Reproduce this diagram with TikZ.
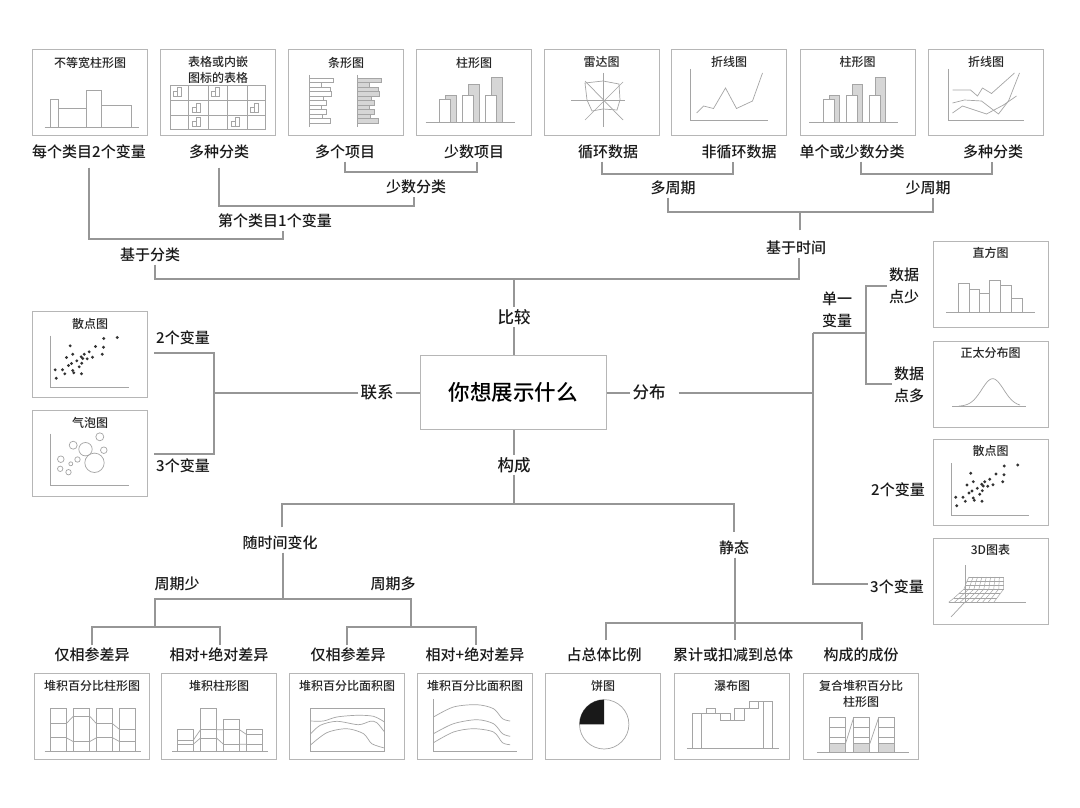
\documentclass[tikz,border=0pt]{standalone}
\usepackage{fontspec}
\setmainfont{Noto Sans CJK SC}
\newfontfamily\lblfont{Noto Sans CJK SC}[UprightFont=* Medium]
\definecolor{boxgray}{RGB}{182,182,182}
\definecolor{branchgray}{RGB}{150,150,150}
\definecolor{plotgray}{RGB}{165,165,165}
\definecolor{barfill}{RGB}{214,214,214}
\tikzset{
  thumb/.style={draw=boxgray, fill=white, line width=0.9pt, minimum width=115pt, minimum height=86pt, inner sep=0pt, outer sep=0pt},
  thumbtitle/.style={font=\lblfont\fontsize{12}{16}\selectfont, inner sep=0pt, align=center, text=black!85},
  lbl/.style={font=\lblfont\fontsize{15}{22}\selectfont, inner sep=2pt, text height=13.2pt, text depth=1.8pt, text=black!90},
  lbltwo/.style={font=\lblfont\fontsize{15}{22}\selectfont, inner sep=2pt, align=center, text=black!90},
  lblbig/.style={font=\lblfont\fontsize{16.5}{22}\selectfont, inner sep=2pt, text height=14.5pt, text depth=2pt, text=black!90},
  branch/.style={draw=branchgray, line width=1.2pt},
  plotline/.style={draw=plotgray, line width=0.7pt},
  barbox/.style={draw=plotgray, fill=white, line width=0.7pt},
  barshade/.style={draw=plotgray, fill=barfill, line width=0.7pt},
  dotmark/.style={fill=black!80}
}
\newcommand{\scatterdots}{%
  \draw[plotline] (18,24) -- (18,76) -- (96,76);
  \foreach \px/\py in {22.7/58.3,23.7/66.7,30/58.3,32.3/62.3,34/46,36/54,37.7/34.3,39/52,40.3/42.7,40.3/59,41.3/61.3,44.3/49.3,46.7/55.3,48.7/45.3,49.3/51.7,49/62.3,50.3/47,51.7/42.7,54.7/47.3,56.7/40.3,60/45.7,63/35,69.7/42.7,71/35.7,71.3/27,84.7/26}
    \fill[dotmark] (\px,\py) circle[radius=1.6];
}
\newcommand{\pairbars}{%
  \foreach \xa/\ya in {29/46,52/35,75/28}
    \draw[barshade] (\xa,73) rectangle (\xa+10.5,\ya);
  \foreach \xa/\ya in {23/50,46/46,69/46}
    \draw[barbox] (\xa,73) rectangle (\xa+11,\ya);
  \draw[plotline] (9,73) -- (98,73);
}
\newcommand{\tableicon}[2]{%
  \draw[plotline, line width=0.5pt] (#1,#2) rectangle (#1+3.5,#2-5);
  \draw[plotline, line width=0.5pt] (#1+3.5,#2) rectangle (#1+7.5,#2-9);
}
\begin{document}
\begin{tikzpicture}[x=1pt,y=-1pt]
\useasboundingbox (0,0) rectangle (1080,808);
\fill[white] (0,0) rectangle (1080,808);

% centre
\node[draw=boxgray, line width=1pt, minimum width=186pt, minimum height=74pt, inner sep=0pt, font=\lblfont\fontsize{21.5}{26}\selectfont, text=black] (root) at (513,392.5) {你想展示什么};
\node[lblbig] (cmp) at (514,317) {比较};
\node[lblbig] (rel) at (377,392) {联系};
\node[lblbig] (dist) at (649,392) {分布};
\node[lblbig] (comp) at (514,465) {构成};

% top row thumbs
\node[thumb] (tmek) at (90,92) {};
\begin{scope}[shift={(tmek.north west)}]
  \node[thumbtitle] (tmekT) at (57.5,14) {不等宽柱形图};
  \draw[plotline] (18,78) rectangle (26,50);
  \draw[plotline] (26,78) rectangle (54,59);
  \draw[plotline] (54,78) rectangle (69,41);
  \draw[plotline] (69,78) rectangle (99,56);
  \draw[plotline] (12,78) -- (106,78);
\end{scope}
\node[thumb] (ttab) at (218,92) {};
\begin{scope}[shift={(ttab.north west)}]
  \node[thumbtitle] (ttabT) at (57.5,21) {表格或内嵌\\图标的表格};
  \draw[plotline] (10,36) rectangle (105,80);
  \foreach \hy in {51,66}
    \draw[plotline] (10,\hy) -- (105,\hy);
  \foreach \vx in {28,48,67,87}
    \draw[plotline] (\vx,36) -- (\vx,80);
  \tableicon{13}{47}
  \tableicon{51}{47}
  \tableicon{32}{63}
  \tableicon{90}{63}
  \tableicon{32}{77}
  \tableicon{71}{77}
\end{scope}
\node[thumb] (tbar) at (346,92) {};
\begin{scope}[shift={(tbar.north west)}]
  \node[thumbtitle] (tbarT) at (57.5,14) {条形图};
  \foreach \by/\bw in {29/24,33.5/12,38/21,42.5/22,47/14,51.5/17,56/12,60.5/17,65/13,69.5/21} {
    \draw[barbox] (21,\by) rectangle (21+\bw,\by+4.5);
    \draw[barshade] (69,\by) rectangle (69+\bw,\by+4.5);
  }
  \draw[plotline] (21,26) -- (21,78);
  \draw[plotline] (69,26) -- (69,78);
\end{scope}
\node[thumb] (tcol) at (474,92) {};
\begin{scope}[shift={(tcol.north west)}]
  \node[thumbtitle] (tcolT) at (57.5,14) {柱形图};
  \pairbars
\end{scope}
\node[thumb] (trad) at (601.5,92) {};
\begin{scope}[shift={(trad.north west)}]
  \node[thumbtitle] (tradT) at (57.5,13) {雷达图};
  \draw[plotline] (27,51) -- (81,51);
  \draw[plotline] (59,24) -- (59,78);
  \draw[plotline] (41,32) -- (79,71);
  \draw[plotline] (79,33) -- (41,71);
  \draw[plotline] (41,34) -- (59,32) -- (75,35) -- (76,51) -- (73,61) -- (59,60) -- (48,62) -- (43,51) -- cycle;
\end{scope}
\node[thumb] (tlin) at (729,92) {};
\begin{scope}[shift={(tlin.north west)}]
  \node[thumbtitle] (tlinT) at (57.5,13) {折线图};
  \draw[plotline] (19,20) -- (19,71) -- (96,71);
  \draw[plotline] (25,64) -- (32,57) -- (42,59.5) -- (54,39) -- (65,59.5) -- (81,52) -- (91,24);
\end{scope}
\node[thumb] (tcol2) at (857.5,92) {};
\begin{scope}[shift={(tcol2.north west)}]
  \node[thumbtitle] (tcol2T) at (57.5,13) {柱形图};
  \pairbars
\end{scope}
\node[thumb] (tlin2) at (986,92) {};
\begin{scope}[shift={(tlin2.north west)}]
  \node[thumbtitle] (tlin2T) at (57.5,13) {折线图};
  \draw[plotline] (20,20) -- (20,71) -- (95,71);
  \draw[plotline] (24,41) -- (42,41) -- (49,47) -- (54,39) -- (63,44.5) -- (86,24);
  \draw[plotline] (24,54) -- (36,51) -- (53,52) -- (70,65) -- (80,52) -- (91,24);
  \draw[plotline] (24,64) -- (34,57) -- (58,65) -- (75,56) -- (88,47);
\end{scope}

% left thumbs
\node[thumb] (tsca) at (90,354.5) {};
\begin{scope}[shift={(tsca.north west)}]
  \node[thumbtitle] (tscaT) at (57.5,12) {散点图};
  \scatterdots
\end{scope}
\node[thumb] (tbub) at (90,453.5) {};
\begin{scope}[shift={(tbub.north west)}]
  \node[thumbtitle] (tbubT) at (57.5,12) {气泡图};
  \draw[plotline] (18,23) -- (18,75) -- (96,75);
  \foreach \cx/\cy/\cr in {67.3/26.3/4,40.7/34.7/4,53/38.7/6.7,71.3/39.7/3.3,62/52.3/9.7,28.3/48.7/3.3,45/49/2.7,38.3/53.3/2,27.7/58.3/2.7,36/61.7/2.7}
    \draw[plotline] (\cx,\cy) circle[radius=\cr];
\end{scope}

% right thumbs
\node[thumb] (this) at (990.5,284) {};
\begin{scope}[shift={(this.north west)}]
  \node[thumbtitle] (thisT) at (57.5,12) {直方图};
  \foreach \xa/\xb/\ya in {25.7/36.3/42,36.3/46.7/48.7,46.7/56.7/52,56.7/67.7/39.7,67.7/78/44.7,78/89/57.7}
    \draw[plotline] (\xa,71) rectangle (\xb,\ya);
  \draw[plotline] (13,71) -- (102,71);
\end{scope}
\node[thumb] (tnor) at (990.5,384) {};
\begin{scope}[shift={(tnor.north west)}]
  \node[thumbtitle] (tnorT) at (57.5,12) {正太分布图};
  \draw[plotline] plot[domain=26:87,samples=40,smooth] (\x,{65.3-27.6*exp(-0.5*((\x-59.7)/11)*((\x-59.7)/11))});
  \draw[plotline] (19,65.3) -- (93,65.3);
\end{scope}
\node[thumb] (tsca2) at (990.5,482) {};
\begin{scope}[shift={(tsca2.north west)}]
  \node[thumbtitle] (tsca2T) at (57.5,12) {散点图};
  \scatterdots
\end{scope}
\node[thumb] (tthr) at (990.5,581) {};
\begin{scope}[shift={(tthr.north west)}]
  \node[thumbtitle] (tthrT) at (57.5,12) {3D图表};
  \draw[plotline] (32,27) -- (32,64) -- (93,64);
  \draw[plotline] (32,64) -- (18,79);
  \foreach \yy/\xl/\xr in {64.3/15.7/60.7,60/21/64,55.5/26/67.3,51/31/70.7,47/32.5/70.7,43/34/70.7,39/36/70.7}
    \draw[plotline, line width=0.5pt] (\xl,\yy) -- (\xr,\yy);
  \foreach \i in {0,...,8}
    \draw[plotline, line width=0.5pt] ({15.7+45*\i/8},64.3) -- ({21+43*\i/8},60) -- ({26+41.3*\i/8},55.5) -- ({31+39.7*\i/8},51) -- ({32.5+38.2*\i/8},47) -- ({34+36.7*\i/8},43) -- ({36+34.7*\i/8},39);
\end{scope}

% bottom thumbs
\node[thumb] (tsta) at (92,716) {};
\begin{scope}[shift={(tsta.north west)}]
  \node[thumbtitle] (tstaT) at (57.5,12.5) {堆积百分比柱形图};
  \foreach \xa/\ya/\yb in {15.7/50.7/64.7,39/43/68.7,62/50.7/64.7,85.3/56.7/68.7} {
    \draw[plotline] (\xa,78) rectangle (\xa+16,35.7);
    \draw[plotline] (\xa,\ya) -- (\xa+16,\ya);
    \draw[plotline] (\xa,\yb) -- (\xa+16,\yb);
  }
  \draw[plotline] (31.7,50.7) -- (39,43) (31.7,64.7) -- (39,68.7);
  \draw[plotline] (55,43) -- (62,50.7) (55,68.7) -- (62,64.7);
  \draw[plotline] (78,50.7) -- (85.3,56.7) (78,64.7) -- (85.3,68.7);
  \draw[plotline] (10,78) -- (106,78);
\end{scope}
\node[thumb] (tstb) at (219,716) {};
\begin{scope}[shift={(tstb.north west)}]
  \node[thumbtitle] (tstbT) at (57.5,12.5) {堆积柱形图};
  \foreach \xa/\yt/\ya/\yb in {15.7/56.3/67.3/71.3,39/35.7/56.7/65,62/46/56.7/71.3,85.3/56.3/61.7/71.3} {
    \draw[plotline] (\xa,78) rectangle (\xa+16,\yt);
    \draw[plotline] (\xa,\ya) -- (\xa+16,\ya);
    \draw[plotline] (\xa,\yb) -- (\xa+16,\yb);
  }
  \draw[plotline] (31.7,67.3) -- (39,56.7) (31.7,71.3) -- (39,65);
  \draw[plotline] (55,56.7) -- (62,56.7) (55,65) -- (62,71.3);
  \draw[plotline] (78,56.7) -- (85.3,61.7) (78,71.3) -- (85.3,71.3);
  \draw[plotline] (10.7,78) -- (106,78);
\end{scope}
\node[thumb] (tara) at (347,716) {};
\begin{scope}[shift={(tara.north west)}]
  \node[thumbtitle] (taraT) at (57.5,12.5) {堆积百分比面积图};
  \draw[plotline] (20.7,35.7) rectangle (95,78);
  \draw[plotline] plot[smooth] coordinates {(20.7,48) (34,48) (47.3,44) (67.3,42.3) (84,43.3) (95,49)};
  \draw[plotline] plot[smooth] coordinates {(20.7,61.3) (30.7,52.3) (47.3,48.3) (69,51.7) (80.7,48.3) (87.3,49.7) (95,59)};
  \draw[plotline] plot[smooth] coordinates {(20.7,72.3) (37.3,59.7) (57.3,55.7) (74,60.7) (82.3,70.7) (95,75)};
\end{scope}
\node[thumb] (tarb) at (475,716) {};
\begin{scope}[shift={(tarb.north west)}]
  \node[thumbtitle] (tarbT) at (57.5,12.5) {堆积百分比面积图};
  \draw[plotline] (16,26) -- (16,78) -- (99,78);
  \draw[plotline] plot[smooth] coordinates {(16,44) (36,34) (59.3,31.7) (76,35.7) (85,45.7) (92.7,48)};
  \draw[plotline] plot[smooth] coordinates {(16,60.7) (36,50.7) (59.3,46.7) (76,50.7) (85,60.7) (92.7,63.3)};
  \draw[plotline] plot[smooth] coordinates {(16,69.7) (36,59) (56,55.7) (76,59) (85,69.7) (92.7,71.7)};
\end{scope}
\node[thumb] (tpie) at (603,716) {};
\begin{scope}[shift={(tpie.north west)}]
  \node[thumbtitle] (tpieT) at (57.5,12.5) {饼图};
  \draw[plotline] (58.7,51.3) circle[radius=24.7];
  \fill[black!90] (58.7,51.3) -- +(180:24.7) arc (180:270:24.7) -- cycle;
\end{scope}
\node[thumb] (twat) at (732,716) {};
\begin{scope}[shift={(twat.north west)}]
  \node[thumbtitle] (twatT) at (57.5,12.5) {瀑布图};
  \draw[plotline] (18,75.7) rectangle (27.3,40.7);
  \draw[plotline] (32,40.7) rectangle (41.3,35.3);
  \draw[plotline] (46,47.3) rectangle (55.7,40.7);
  \draw[plotline] (60.3,47.3) rectangle (69.7,35);
  \draw[plotline] (74.7,35) rectangle (84,28.7);
  \draw[plotline] (89,75.7) rectangle (98.3,28.7);
  \draw[plotline] (27.3,40.7) -- (32,40.7) (41.3,40.7) -- (46,40.7) (55.7,47.3) -- (60.3,47.3) (69.7,35) -- (74.7,35) (84,28.7) -- (89,28.7);
  \draw[plotline] (12.3,75.7) -- (104,75.7);
\end{scope}
\node[thumb] (tcom) at (861,716) {};
\begin{scope}[shift={(tcom.north west)}]
  \node[thumbtitle] (tcomT) at (57.5,20.5) {复合堆积百分比\\柱形图};
  \foreach \xa in {25.7,50,75} {
    \fill[barfill] (\xa,70.7) rectangle (\xa+16.3,79.7);
    \draw[plotline] (\xa,79.7) rectangle (\xa+16.3,44.3);
    \draw[plotline] (\xa,54.7) -- (\xa+16.3,54.7);
    \draw[plotline] (\xa,64.7) -- (\xa+16.3,64.7);
    \draw[plotline] (\xa,70.7) -- (\xa+16.3,70.7);
  }
  \draw[plotline] (42,70.7) -- (50,45) (66.3,70.7) -- (75,45);
  \draw[plotline] (13.3,79.7) -- (105,79.7);
\end{scope}

% labels, top
\node[lbl] (each2) at (89,152) {每个类目2个变量};
\node[lbl] (manycat) at (219,152) {多种分类};
\node[lbl] (manyit) at (345,152) {多个项目};
\node[lbl] (fewit) at (474,152) {少数项目};
\node[lbl] (cyc) at (608,152) {循环数据};
\node[lbl] (noncyc) at (739,152) {非循环数据};
\node[lbl] (fewcat) at (852,152) {单个或少数分类};
\node[lbl] (manycat2) at (993,152) {多种分类};
\node[lbl] (fewcatb) at (416,187) {少数分类};
\node[lbl] (manyper) at (673,188) {多周期};
\node[lbl] (fewper) at (928,188) {少周期};
\node[lbl] (each1) at (275,221) {第个类目1个变量};
\node[lbl] (bycat) at (150,255) {基于分类};
\node[lbl] (bytime) at (796,248) {基于时间};

\coordinate (jait) at (345,172);
\coordinate (jbit) at (477,172);
\coordinate (jatab) at (219,206);
\coordinate (jbtab) at (414,206);
\coordinate (jaeach) at (89,239);
\coordinate (jbeach) at (283,239);
\coordinate (jacyc) at (602,174);
\coordinate (jbcyc) at (733,174);
\coordinate (japer) at (861,174);
\coordinate (jbper) at (992,174);
\coordinate (jatime) at (668,212);
\coordinate (jbtime) at (933,212);
\coordinate (jmtime) at (800,212);
\coordinate (jacmp) at (155,279);
\coordinate (jbcmp) at (799,279);

\draw[branch] (manyit.south -| jait) -- (jait) -- (jbit) -- (fewit.south -| jbit);
\draw[branch, shorten <=6pt] (manycat.south) -- (jatab) -- (jbtab) -- (fewcatb.south -| jbtab);
\draw[branch, shorten <=6pt] (each2.south) -- (jaeach) -- (jbeach) -- (each1.south -| jbeach);
\draw[branch] (cyc.south -| jacyc) -- (jacyc) -- (jbcyc) -- (noncyc.south -| jbcyc);
\draw[branch] (fewcat.south -| japer) -- (japer) -- (jbper) -- (manycat2.south -| jbper);
\draw[branch] (manyper.south -| jatime) -- (jatime) -- (jbtime) -- (fewper.south -| jbtime);
\draw[branch, shorten <=8pt] (bytime.north -| jmtime) -- (jmtime);
\draw[branch] (bycat.south -| jacmp) -- (jacmp) -- (jbcmp) -- (bytime.south -| jbcmp);
\draw[branch] (cmp.north) -- (cmp.north |- jacmp);
\draw[branch] (cmp.south) -- (cmp.south |- root.north);

% left side
\node[lbl] (rel2) at (183,338) {2个变量};
\node[lbl] (rel3) at (183,466) {3个变量};
\coordinate (jrelm) at (214,393);
\coordinate (jrela) at (214,353);
\coordinate (jrelb) at (214,454);
\draw[branch] (root.west |- jrelm) -- (rel.east |- jrelm);
\draw[branch] (rel.west |- jrelm) -- (jrelm);
\draw[branch] (rel2.south west |- jrela) -- (jrela) -- (jrelb) -- (rel3.north west |- jrelb);

% right side
\node[lbltwo] (single) at (837,310) {单一\\变量};
\node[lbltwo] (few) at (904,285.5) {数据\\点少};
\node[lbltwo] (many) at (909,385) {数据\\点多};
\node[lbl] (var2) at (898,490) {2个变量};
\node[lbl] (var3) at (897,587) {3个变量};
\coordinate (jdist) at (813,393);
\coordinate (jdista) at (813,333);
\coordinate (jdistb) at (813,584);
\coordinate (jsplit) at (866,333);
\coordinate (jfew) at (866,286);
\coordinate (jmany) at (866,384);
\draw[branch] (root.east |- jdist) -- (dist.west |- jdist);
\draw[branch, shorten <=11pt] (dist.east |- jdist) -- (jdist);
\draw[branch] (jdista) -- (jdistb) -- (var3.west |- jdistb);
\draw[branch] (jdista) -- (jsplit);
\draw[branch] (few.west |- jfew) -- (jfew) -- (jmany) -- (many.west |- jmany);

% bottom tree
\node[lbl] (overtime) at (280,543) {随时间变化};
\node[lbl] (static) at (734,548) {静态};
\node[lbl] (perfew) at (177,584) {周期少};
\node[lbl] (permany) at (393,584) {周期多};
\node[lbl] (rela) at (92,655) {仅相参差异};
\node[lbl] (abra) at (219,655) {相对+绝对差异};
\node[lbl] (relb) at (348,655) {仅相参差异};
\node[lbl] (abrb) at (475,655) {相对+绝对差异};
\node[lbl] (share) at (604,655) {占总体比例};
\node[lbl] (accum) at (733,655) {累计或扣减到总体};
\node[lbl] (parts) at (861,655) {构成的成份};
\coordinate (jcompa) at (282,504);
\coordinate (jcompb) at (734,504);
\coordinate (jtima) at (155,599);
\coordinate (jtimb) at (411,599);
\coordinate (jtimm) at (283,599);
\coordinate (jfewm) at (155,627);
\coordinate (jfewa) at (92,627);
\coordinate (jfewb) at (220,627);
\coordinate (jmanym) at (411,627);
\coordinate (jmanya) at (347,627);
\coordinate (jmanyb) at (476,627);
\coordinate (jstaa) at (606,623);
\coordinate (jstab) at (862,623);
\coordinate (jstam) at (735,623);
\draw[branch] (comp.north |- root.south) -- (comp.north);
\draw[branch] (comp.south) -- (comp.south |- jcompa);
\draw[branch, shorten <=6pt, shorten >=6pt] (overtime.north -| jcompa) -- (jcompa) -- (jcompb) -- (static.north -| jcompb);
\draw[branch] (overtime.south -| jtimm) -- (jtimm);
\draw[branch] (jfewm) -- (jtima) -- (jtimb) -- (jmanym);
\draw[branch] (rela.north -| jfewa) -- (jfewa) -- (jfewb) -- (abra.north -| jfewb);
\draw[branch] (relb.north -| jmanya) -- (jmanya) -- (jmanyb) -- (abrb.north -| jmanyb);
\draw[branch, shorten <=5pt, shorten >=5pt] (share.north -| jstaa) -- (jstaa) -- (jstab) -- (parts.north -| jstab);
\draw[branch, shorten >=5pt] (static.south -| jstam) -- (accum.north -| jstam);
\end{tikzpicture}
\end{document}
